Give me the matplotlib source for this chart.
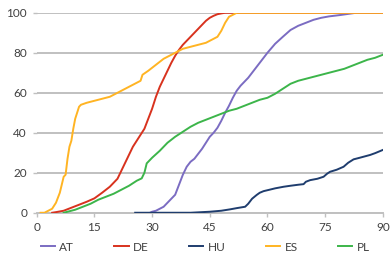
import matplotlib

matplotlib.use("Agg")
import matplotlib.pyplot as plt  # noqa: E402

plt.rcParams["font.family"] = ["Lato", "DejaVu Sans"]

AT_C, DE_C, HU_C, ES_C, PL_C = "#7b6cc2", "#d8321e", "#1f3d6e", "#ffb423", "#3cb54a"
GRID, TXT = "#c0c0c0", "#404040"

# cumulative share (%) against the x scale
at_x = [29.5, 30, 31, 32, 33, 34, 35, 36, 37, 38, 39, 40, 41, 42, 43, 44, 45, 46, 47, 48,
        49, 50, 51, 52, 53, 54, 55, 56, 57, 58, 59, 60, 62, 64, 66, 68, 70, 72, 74, 76,
        79, 83, 90]
at_y = [0, 0.5, 1, 2, 3, 5, 7, 9, 14, 19, 23, 25.5, 27, 29.5, 32, 35, 38, 40, 42.5, 46,
        50, 53.5, 57.5, 61, 63.5, 65.5, 67.5, 70, 72.5, 75, 77.5, 80, 84.5, 88, 91.4, 93.5,
        95, 96.5, 97.5, 98.2, 98.9, 100, 100]

de_x = [4, 5, 7, 9, 11, 13, 15, 17, 19, 21, 22, 23, 24, 25, 26, 27, 28, 29, 30, 31, 32,
        33, 34, 35, 36, 37, 38, 39, 40, 41, 42, 43, 44, 45, 46, 47, 48, 49, 90]
de_y = [0, 0.3, 1, 2.5, 4, 5.5, 7.2, 10, 13, 17, 21, 25, 29, 33, 36, 39, 42, 47, 52, 58,
        63, 67, 71, 75, 78.5, 81.5, 84, 86, 88, 90, 92, 94, 96, 97.5, 98.5, 99.3, 99.7,
        100, 100]

hu_x = [25.6, 35, 40, 45, 48, 50.3, 52, 54.2, 55, 56, 57.2, 58, 59, 60.3, 62, 64.2, 66,
        68, 69.4, 70, 71.1, 73, 74.6, 75.5, 76.3, 78, 79.8, 81, 82.4, 84, 86.7, 88, 90]
hu_y = [0, 0, 0, 0.5, 1, 1.7, 2.3, 3, 4.5, 7, 8.9, 10, 10.8, 11.4, 12.2, 13, 13.5, 14,
        14.3, 15.5, 16.3, 17, 18, 19.5, 20.5, 21.5, 23, 25, 26.7, 27.5, 28.9, 29.8, 31.4]

es_x = [1, 2, 3, 4, 5, 6, 7, 7.5, 8, 8.5, 9, 9.5, 10, 10.5, 11, 11.5, 13, 15, 17, 19, 21,
        23, 25, 27, 27.5, 29, 31, 33, 35, 36.5, 38, 40, 42, 44, 46, 47, 48, 49, 50, 51, 52,
        90]
es_y = [0, 0, 1, 2, 5, 10, 18, 19, 27, 33, 36, 42, 47, 50, 53, 54, 55, 56, 57, 58, 60,
        62, 64, 66, 69, 71, 74, 77, 79, 80.5, 82, 83, 84, 85, 87, 88, 91, 95, 98, 99, 100,
        100]

pl_x = [7, 8, 10, 12, 14, 16, 18, 20, 22, 24, 26, 27.3, 28, 28.6, 30, 32, 34, 36, 38, 40,
        42, 44, 46, 48, 50, 52, 54, 56, 58, 60, 62, 64, 66, 68, 70, 72, 74, 76, 78, 80, 82,
        84, 86, 88, 90]
pl_y = [0, 0.5, 1.5, 3, 4.5, 6.5, 8, 9.5, 11.5, 13.5, 16, 17.2, 20, 24.7, 27.5, 31, 35,
        38, 40.5, 43, 45, 46.5, 48, 49.5, 51, 52, 53.5, 55, 56.5, 57.5, 59.5, 62, 64.5, 66,
        67, 68, 69, 70, 71, 72, 73.5, 75, 76.5, 77.5, 79]

series = [("AT", at_x, at_y, AT_C), ("DE", de_x, de_y, DE_C), ("HU", hu_x, hu_y, HU_C),
          ("ES", es_x, es_y, ES_C), ("PL", pl_x, pl_y, PL_C)]
x_ticks = [0, 15, 30, 45, 60, 75, 90]
y_ticks = [0, 20, 40, 60, 80, 100]

fig = plt.figure(figsize=(3.91, 2.56), dpi=100)
ax = fig.add_axes([0.094, 0.169, 0.885, 0.781])

for name, xs, ys, c in series:
    ax.plot(xs, ys, color=c, lw=1.4, label=name, zorder=3, solid_joinstyle="round")

ax.set_xlim(0, 90)
ax.set_ylim(0, 100)
ax.set_xticks(x_ticks)
ax.set_yticks(y_ticks)
ax.grid(axis="y", color=GRID, lw=1.4, zorder=0)
ax.set_axisbelow(True)
for s in ("top", "right", "left"):
    ax.spines[s].set_visible(False)
ax.spines["bottom"].set_color(GRID)
ax.spines["bottom"].set_linewidth(1.4)
ax.tick_params(axis="both", labelsize=8.5, colors=TXT, length=3, width=1, color=GRID)
ax.tick_params(axis="y", pad=4)

fig.legend(loc="center", bbox_to_anchor=(0.525, 0.035), ncol=5, frameon=False,
           fontsize=8.5, handlelength=1.2, handletextpad=0.4, columnspacing=3.4,
           labelcolor=TXT)

fig.savefig("out.png", dpi=100, facecolor="white")
